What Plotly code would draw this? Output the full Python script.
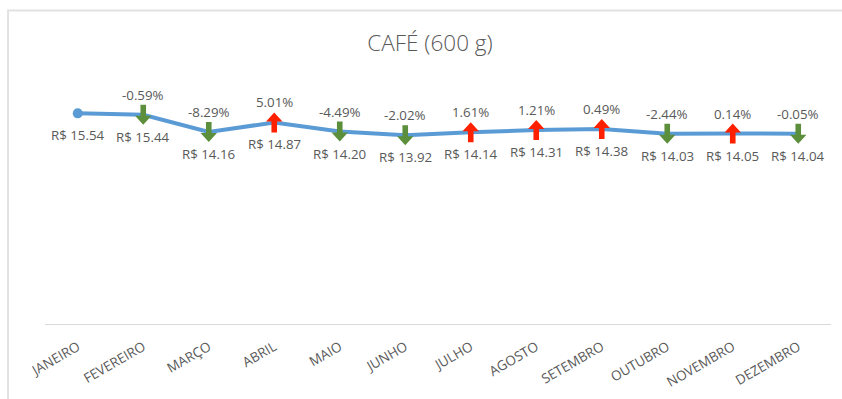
import plotly.graph_objects as go

# Monthly price of coffee (600 g) and the month-over-month change
months = ["JANEIRO", "FEVEREIRO", "MARÇO", "ABRIL", "MAIO", "JUNHO",
          "JULHO", "AGOSTO", "SETEMBRO", "OUTUBRO", "NOVEMBRO", "DEZEMBRO"]
prices = [15.54, 15.44, 14.16, 14.87, 14.20, 13.92,
          14.14, 14.31, 14.38, 14.03, 14.05, 14.04]
changes = [None, -0.59, -8.29, 5.01, -4.49, -2.02,
           1.61, 1.21, 0.49, -2.44, 0.14, -0.05]

LINE_BLUE = "#5B9BD5"
GREEN = "#5B8F3B"
RED = "#FF2000"
TEXT_GRAY = "#595959"
FONT = "Open Sans"
LABEL_SIZE = 13.3

xs = list(range(len(months)))

fig = go.Figure()

# price line
fig.add_trace(go.Scatter(
    x=xs, y=prices, mode="lines",
    line=dict(color=LINE_BLUE, width=4),
    hoverinfo="skip", showlegend=False,
))
# the first month has no change arrow, only a round marker
fig.add_trace(go.Scatter(
    x=[xs[0]], y=[prices[0]], mode="markers",
    marker=dict(color=LINE_BLUE, size=10, symbol="circle"),
    hoverinfo="skip", showlegend=False,
))

# block arrow outline in pixels (positive y is up), pointing down
HALF_STEM = 2.8
HALF_HEAD = 8.2
TOP = 10.0
HEAD_BASE = -1.0
TIP = -10.0


def arrow_path(direction):
    s = 1 if direction == "down" else -1
    pts = [(-HALF_STEM, TOP), (HALF_STEM, TOP), (HALF_STEM, HEAD_BASE),
           (HALF_HEAD, HEAD_BASE), (0, TIP), (-HALF_HEAD, HEAD_BASE),
           (-HALF_STEM, HEAD_BASE)]
    segs = [f"{px},{py * s}" for px, py in pts]
    return "M" + " L".join(segs) + " Z"


shapes = []
annotations = []
for x, p, c in zip(xs, prices, changes):
    annotations.append(dict(
        x=x, y=p, xref="x", yref="y", text=f"R$ {p:.2f}",
        showarrow=False, yanchor="middle", yshift=-22,
        font=dict(family=FONT, size=LABEL_SIZE, color=TEXT_GRAY),
    ))
    if c is None:
        continue
    annotations.append(dict(
        x=x, y=p, xref="x", yref="y", text=f"{c:.2f}%",
        showarrow=False, yanchor="middle", yshift=20,
        font=dict(family=FONT, size=LABEL_SIZE, color=TEXT_GRAY),
    ))
    down = c < 0
    shapes.append(dict(
        type="path", xref="x", yref="y",
        xsizemode="pixel", ysizemode="pixel",
        xanchor=x, yanchor=p,
        path=arrow_path("down" if down else "up"),
        fillcolor=GREEN if down else RED,
        line=dict(width=0), layer="above",
    ))

# chart frame
shapes.append(dict(
    type="rect", xref="paper", yref="paper",
    x0=-0.047, x1=1.2, y0=-0.6, y1=1.285,
    line=dict(color="#E2E2E2", width=2), fillcolor="rgba(0,0,0,0)",
    layer="below",
))

fig.update_layout(
    width=842, height=399,
    margin=dict(l=45, r=11, t=80, b=75),
    paper_bgcolor="white", plot_bgcolor="white",
    title=dict(
        text="CAFÉ (600 g)", x=430 / 842, xanchor="center",
        y=1 - 43 / 399, yanchor="middle",
        font=dict(family=FONT, size=22.5, color=TEXT_GRAY, weight=300),
    ),
    shapes=shapes,
    annotations=annotations,
    xaxis=dict(
        range=[-0.5, len(months) - 0.5],
        tickmode="array", tickvals=xs, ticktext=months,
        tickangle=-30, showgrid=False, zeroline=False,
        showline=True, linecolor="#D9D9D9", linewidth=1,
        ticks="", ticklabelstandoff=9, automargin=False,
        tickfont=dict(family=FONT, size=13.5, color=TEXT_GRAY),
        fixedrange=True,
    ),
    yaxis=dict(
        range=[0, 18], visible=False, showgrid=False, zeroline=False,
        fixedrange=True, automargin=False,
    ),
)

fig.write_html("out.html")
